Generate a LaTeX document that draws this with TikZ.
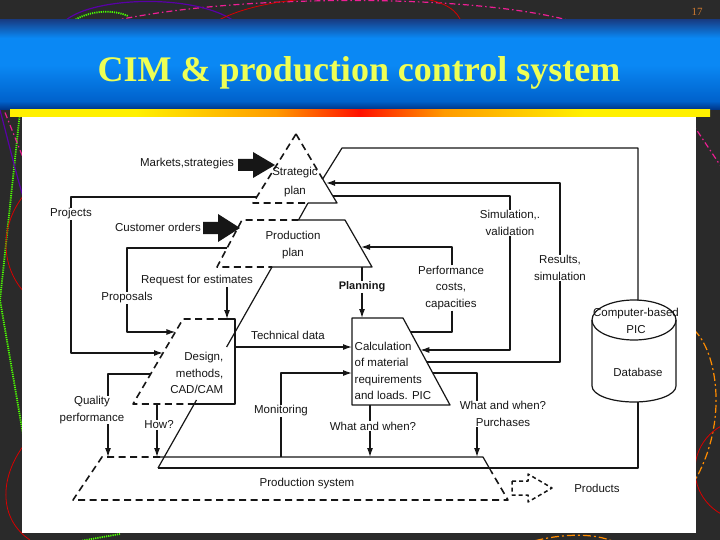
\documentclass[tikz,border=0pt]{standalone}
\usepackage{fontspec}
\setmainfont{Liberation Sans}
\newfontfamily\titlefont{Liberation Serif}
\usetikzlibrary{arrows.meta}
\definecolor{slidebg}{HTML}{2A2A2A}
\definecolor{bandTop}{HTML}{173E86}
\definecolor{bandLight}{HTML}{0A88F4}
\definecolor{bandMid}{HTML}{0062CC}
\definecolor{bandBot}{HTML}{003282}
\definecolor{titleyel}{HTML}{EEFF55}
\definecolor{pgnum}{HTML}{D07A30}
\definecolor{barY}{HTML}{FFF000}
\definecolor{barO}{HTML}{FF9A00}
\definecolor{barR}{HTML}{FF1000}
\definecolor{ink}{HTML}{161616}
\pgfdeclareverticalshading{bandshade}{100bp}{color(0bp)=(bandBot); color(25bp)=(bandBot); color(30bp)=(bandMid); color(50bp)=(bandLight); color(65bp)=(bandLight); color(75bp)=(bandTop); color(100bp)=(bandTop)}
\pgfdeclarehorizontalshading{barshade}{100bp}{color(0bp)=(barY); color(34bp)=(barY); color(44bp)=(barO); color(50bp)=(barR); color(56bp)=(barO); color(66bp)=(barY); color(100bp)=(barY)}
\begin{document}
\begin{tikzpicture}[x=1pt,y=-1pt,line join=round,
  lbl/.style={font=\fontsize{11.5}{16.5}\selectfont, inner sep=0.5pt, align=center, text=ink},
  ln/.style={line width=1.2pt, draw=ink},
  dsh/.style={line width=1.6pt, draw=ink, dash pattern=on 7pt off 4.5pt},
  arr/.style={ln, -{Latex[length=9pt,width=6pt]}},
  deco/.style={line width=1.2pt}]
\useasboundingbox (0,0) rectangle (720,540);
\fill[slidebg] (0,0) rectangle (720,540);
% background decorations
\draw[deco, magenta!85!pink, dash pattern=on 6pt off 3pt on 1.5pt off 3pt] (100,24) .. controls (220,-6) and (470,-8) .. (575,22);
\draw[deco, violet!70!blue] (62,24) .. controls (85,-4) and (200,-8) .. (238,24);
\draw[deco, green!70!yellow, densely dotted, line width=1.8pt] (72,22) .. controls (85,12) and (110,8) .. (128,16);
\draw[deco, red!85!black, line width=0.8pt] (212,24) .. controls (240,6) and (290,-2) .. (335,-2);
\draw[deco, red!85!black, line width=0.8pt] (420,-2) .. controls (445,2) and (458,10) .. (462,24);
\draw[deco, green!70!yellow, densely dotted, line width=1.8pt] (20,112) -- (0,300) -- (24,440);
\draw[deco, red!85!black, line width=0.8pt] (24,195) .. controls (0,225) and (0,265) .. (24,292);
\draw[deco, red!85!black, line width=0.8pt] (24,445) .. controls (-2,480) and (0,520) .. (30,540);
\draw[deco, violet!70!blue] (0,110) .. controls (8,140) and (15,170) .. (24,200);
\draw[deco, magenta!85!pink, dash pattern=on 6pt off 3pt on 1.5pt off 3pt] (0,100) -- (24,160);
\draw[deco, magenta!85!pink, dash pattern=on 6pt off 3pt on 1.5pt off 3pt] (690,120) -- (720,165);
\draw[deco, orange!90!yellow, dash pattern=on 8pt off 3pt on 2pt off 3pt] (694,330) .. controls (716,350) and (730,420) .. (694,482);
\draw[deco, red!85!black, line width=0.8pt] (745,470) circle[radius=50];
\draw[deco, orange!90!yellow, dash pattern=on 8pt off 3pt on 2pt off 3pt] (520,545) .. controls (560,532) and (600,532) .. (620,545);
\draw[deco, green!70!yellow, densely dotted, line width=1.8pt] (80,541) -- (120,534);
% title band
\shade[shading=bandshade] (0,20) rectangle (720,110);
\shade[shading=barshade] (10,110) rectangle (710,117);
\fill[white] (22,117) rectangle (696,533);
\node[font=\titlefont\bfseries\fontsize{36}{40}\selectfont, text=titleyel, anchor=base, inner sep=0pt] (title) at (359,82) {CIM \& production control system};
\node[font=\titlefont\fontsize{11}{12}\selectfont, text=pgnum, inner sep=0pt] (pagenum) at (697,12) {17};

% ---------- shapes ----------
% strategic plan
\coordinate (sA) at (296,134);
\coordinate (sL) at (253,203);
\coordinate (sR) at (337,203);
\coordinate (sJ) at (322.7,179);
\coordinate (sB) at (308,203);
\draw[dsh] (sA) -- (sL) -- (sB);
\draw[dsh] (sA) -- (sJ);
\draw[ln] (sJ) -- (sR) -- (sB);
% production plan
\coordinate (pTL) at (242,220);
\coordinate (pTR) at (345,220);
\coordinate (pBR) at (372,267);
\coordinate (pBL) at (217,267);
\coordinate (pTD) at (298.5,220);
\coordinate (pBD) at (272,267);
\draw[dsh] (pTD) -- (pTL) -- (pBL) -- (pBD);
\draw[ln] (pTD) -- (pTR) -- (pBR) -- (pBD);
% design
\coordinate (dTL) at (183,319);
\coordinate (dTR) at (235,319);
\coordinate (dBR) at (235,404);
\coordinate (dBL) at (133,404);
\coordinate (dTD) at (225,319);
\coordinate (dBD) at (194,404);
\draw[dsh] (dTD) -- (dTL) -- (dBL) -- (dBD);
\draw[ln] (dTD) -- (dTR) -- (dBR) -- (dBD);
% calculation
\coordinate (cTL) at (352,318);
\coordinate (cTR) at (403,318);
\coordinate (cBR) at (450,405);
\coordinate (cBL) at (352,405);
\draw[ln] (cTL) -- (cTR) -- (cBR) -- (cBL) -- cycle;
% production system
\coordinate (qTL) at (102,457);
\coordinate (qTS) at (160,457);
\coordinate (qTR) at (483,457);
\coordinate (qRS) at (491,471);
\coordinate (qBR) at (508,500);
\coordinate (qBL) at (73,500);
\draw[dsh] (qTS) -- (qTL) -- (qBL) -- (qBR) -- (qRS);
\draw[ln] (qTS) -- (qTR) -- (qRS);
% long diagonal (segments)
\coordinate (g1) at (226.6,347);
\coordinate (g2) at (196.5,400);
\coordinate (g3) at (158,468);
\draw[ln] (sB) -- (pTD);
\draw[ln] (pBD) -- (g1);
\draw[ln] (g2) -- (g3);
% database
\coordinate (dbtop) at (638,300.5);
\coordinate (dbbot) at (638,401.8);
\draw[ln] (634,320) ellipse [x radius=42, y radius=20];
\draw[ln] (592,320) -- (592,386) .. controls (592,394.8) and (610.8,402) .. (634,402)
      .. controls (657.2,402) and (676,394.8) .. (676,386) -- (676,320);

% big arrows
\fill[ink] (238,159) -- (253,159) -- (253,152) -- (275,165) -- (253,178) -- (253,171) -- (238,171) -- cycle;
\fill[ink] (203,222) -- (218,222) -- (218,214) -- (240,228) -- (218,242) -- (218,234) -- (203,234) -- cycle;
\draw[ink, line width=1.5pt, dash pattern=on 4pt off 3pt] (512,481) -- (528,481) -- (528,474) -- (552,488) -- (528,502) -- (528,495) -- (512,495) -- cycle;

% ---------- labels ----------
\node[lbl] (mk) at (187,164) {Markets,strategies};
\node[lbl, font=\fontsize{11.5}{19}\selectfont] (strat) at (295,182) {Strategic\\plan};
\node[lbl] (co) at (158,227) {Customer orders};
\node[lbl] (prod) at (293,245) {Production\\plan};
\node[lbl] (proj) at (71,214) {Projects};
\node[lbl] (sim) at (510,223) {Simulation,.\\validation};
\node[lbl] (res) at (560,268) {Results,\\simulation};
\node[lbl] (perf) at (451,288) {Performance\\costs,\\capacities};
\node[lbl] (req) at (197,281) {Request for estimates};
\node[lbl] (prop) at (127,298) {Proposals};
\node[lbl, font=\bfseries\fontsize{11}{13}\selectfont] (plan) at (362,287) {Planning};
\node[lbl] (tech) at (288,335) {Technical data};
\node[lbl, align=right, anchor=east] (des) at (224,373) {Design,\\methods,\\CAD/CAM};
\node[lbl, align=left, anchor=west] (calc) at (354,371) {Calculation\\of material\\requirements\\and loads. PIC};
\node[lbl] (mon) at (281,411) {Monitoring};
\node[lbl] (ww) at (373,426) {What and when?};
\node[lbl] (ww2) at (503,414) {What and when?\\Purchases};
\node[lbl] (qual) at (92,410) {Quality\\performance};
\node[lbl] (how) at (159,425) {How?};
\node[lbl] (psys) at (307,484) {Production system};
\node[lbl] (prods) at (597,488) {Products};
\node[lbl] (db1) at (636,321) {Computer-based\\PIC};
\node[lbl] (db2) at (638,372) {Database};

% ---------- connectors ----------
% top line database -> strategic plan
\draw[ln] (sJ) -- (342,148) -- (638,148) -- (dbtop);
% results
\coordinate (sK) at (326,183);
\coordinate (cR1) at (426.8,362);
\draw[arr] (res.north) |- (sK);
\draw[ln] (res.south) |- (cR1);
% simulation
\coordinate (sS) at (332.6,196);
\coordinate (cR2) at (420.3,350);
\draw[ln] (sim.north) |- (sS);
\draw[arr] (sim.south) |- (cR2);
% performance
\coordinate (pR) at (361,247);
\coordinate (cR3) at (410.6,332);
\coordinate (pfx) at (452,300);
\draw[arr] (pfx |- perf.north) |- (pR);
\draw[ln] (pfx |- perf.south) |- (cR3);
% projects
\coordinate (sLp) at (256.7,197);
\coordinate (dL1) at (163,353);
\draw[ln] (proj.north) |- (sLp);
\draw[arr] (proj.south) |- (dL1);
% proposals
\coordinate (pL) at (227,248);
\coordinate (dL2) at (175.4,332);
\draw[ln] (prop.north) |- (pL);
\draw[arr] (prop.south) |- (dL2);
% request for estimates
\coordinate (dT) at (227,319);
\draw[arr] (req.south -| dT) -- (dT);
% planning
\coordinate (pB) at (362,267);
\coordinate (cT) at (362,318);
\draw[ln] (pB) -- (plan.north);
\draw[arr] (plan.south) -- (cT);
% technical data
\coordinate (dR) at (235,347);
\coordinate (cL1) at (352,347);
\draw[arr] (dR) -- (cL1);
% monitoring
\coordinate (qT1) at (281,457);
\coordinate (cL2) at (352,373);
\draw[ln] (qT1) -- (mon.south);
\draw[arr] (mon.north) |- (cL2);
% what and when (middle)
\coordinate (cB) at (370,405);
\coordinate (qT2) at (370,457);
\draw[ln] (cB) -- (cB |- ww.north);
\draw[arr] (cB |- ww.south) -- (qT2);
% purchases
\coordinate (cR4) at (432.7,373);
\coordinate (qT3) at (477,457);
\draw[ln] (cR4) -| (qT3 |- ww2.north);
\draw[arr] (qT3 |- ww2.south) -- (qT3);
% quality performance
\coordinate (dL3) at (150.6,374);
\coordinate (qT4) at (108,457);
\draw[ln] (dL3) -| (qT4 |- qual.north);
\draw[arr] (qT4 |- qual.south) -- (qT4);
% how
\coordinate (dB) at (157,404);
\coordinate (qT5) at (157,457);
\draw[ln] (dB) -- (dB |- how.north);
\draw[arr] (dB |- how.south) -- (qT5);
% production system -> database
\draw[ln] (dbbot) -- (638,468) -- (g3);
\end{tikzpicture}
\end{document}
